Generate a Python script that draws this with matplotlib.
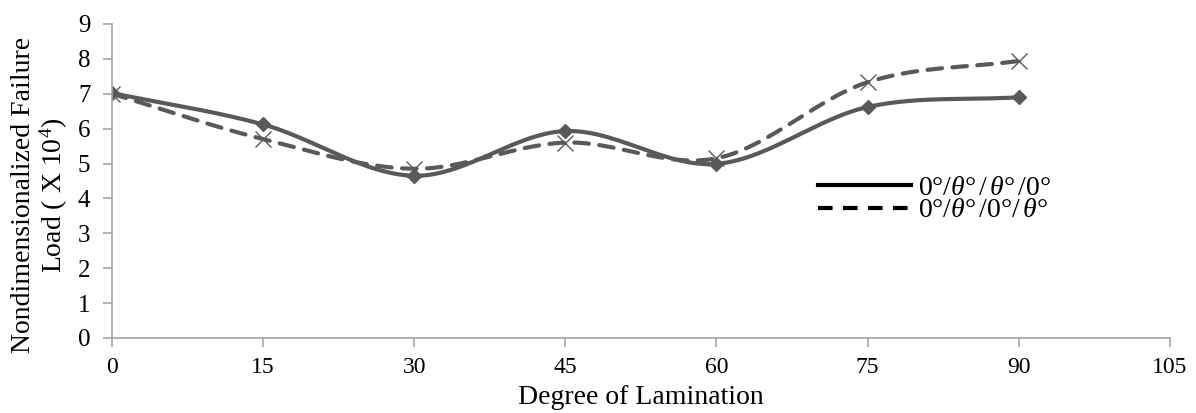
import numpy as np
import matplotlib
matplotlib.use("Agg")
import matplotlib.pyplot as plt
from matplotlib.lines import Line2D

plt.rcParams['font.family'] = ['Liberation Serif', 'DejaVu Serif']
plt.rcParams['mathtext.fontset'] = 'custom'
plt.rcParams['mathtext.rm'] = 'Liberation Serif'
plt.rcParams['mathtext.it'] = 'Liberation Serif:italic'

angles = [0, 15, 30, 45, 60, 75, 90]
load_sym = [7.02, 6.12, 4.65, 5.93, 4.99, 6.62, 6.90]
load_anti = [7.00, 5.70, 4.85, 5.60, 5.15, 7.33, 7.94]
label_sym = r"0°/$\theta$°$\,$/$\,\theta$°$\,$/0°"
label_anti = r"0°/$\theta$°$\,$/0°/$\,\theta$°"
xticks = [0, 15, 30, 45, 60, 75, 90, 105]
yticks = list(range(0, 10))


def smooth(x, y, n=30):
    x = np.asarray(x, float); y = np.asarray(y, float)
    px = np.concatenate([[2*x[0]-x[1]], x, [2*x[-1]-x[-2]]])
    py = np.concatenate([[2*y[0]-y[1]], y, [2*y[-1]-y[-2]]])
    xs, ys = [], []
    t = np.linspace(0, 1, n)
    for i in range(1, len(px)-2):
        for arr, out in ((px, xs), (py, ys)):
            p0, p1, p2, p3 = arr[i-1], arr[i], arr[i+1], arr[i+2]
            out.extend(0.5*((2*p1) + (-p0+p2)*t + (2*p0-5*p1+4*p2-p3)*t**2 + (-p0+3*p1-3*p2+p3)*t**3))
    return np.array(xs), np.array(ys)


fig = plt.figure(figsize=(11.96, 4.13), dpi=100)
ax = fig.add_axes([0.0936, 0.1816, 0.8845, 0.7604])
col = '#595959'
sx, sy = smooth(angles, load_sym)
ax.plot(sx, sy, color=col, lw=3, solid_capstyle='round')
ax.plot(angles, load_sym, ls='none', marker='D', ms=7, color=col)
ax2x, ax2y = smooth(angles, load_anti)
ax.plot(ax2x, ax2y, color=col, lw=3, ls=(0, (3.5, 2.5)), dash_capstyle='round')
ax.plot(angles, load_anti, ls='none', marker='x', ms=11, mew=1.0, color=col)

ax.set_xlim(0, 105)
ax.set_ylim(0, 9)
ax.set_xticks(xticks)
ax.set_yticks(yticks)
for s in ['top', 'right']:
    ax.spines[s].set_visible(False)
for s in ['left', 'bottom']:
    ax.spines[s].set_color('#a6a6a6')
    ax.spines[s].set_linewidth(1.2)
ax.tick_params(axis='both', colors='#a6a6a6', labelcolor='black', length=6.5, width=1.2)
ax.tick_params(axis='x', pad=7, labelsize=17)
ax.tick_params(axis='y', pad=9, labelsize=18)
ax.set_xlabel('Degree of Lamination', fontsize=20, labelpad=5)
ax.set_ylabel('Nondimensionalized Failure\nLoad ( X 10$^4$)', fontsize=20, linespacing=1.05)
ax.yaxis.set_label_coords(-0.040, 0.455)

handles = [Line2D([], [], color='black', lw=3),
           Line2D([], [], color='black', lw=3, ls=(0, (3.5, 2.5)))]
ax.legend(handles, [label_sym, label_anti], loc='upper left', bbox_to_anchor=(0.657, 0.554),
          frameon=False, fontsize=20, handlelength=3.35, handletextpad=0.25,
          labelspacing=-0.1, borderaxespad=0)

fig.savefig('out.png', dpi=100)
